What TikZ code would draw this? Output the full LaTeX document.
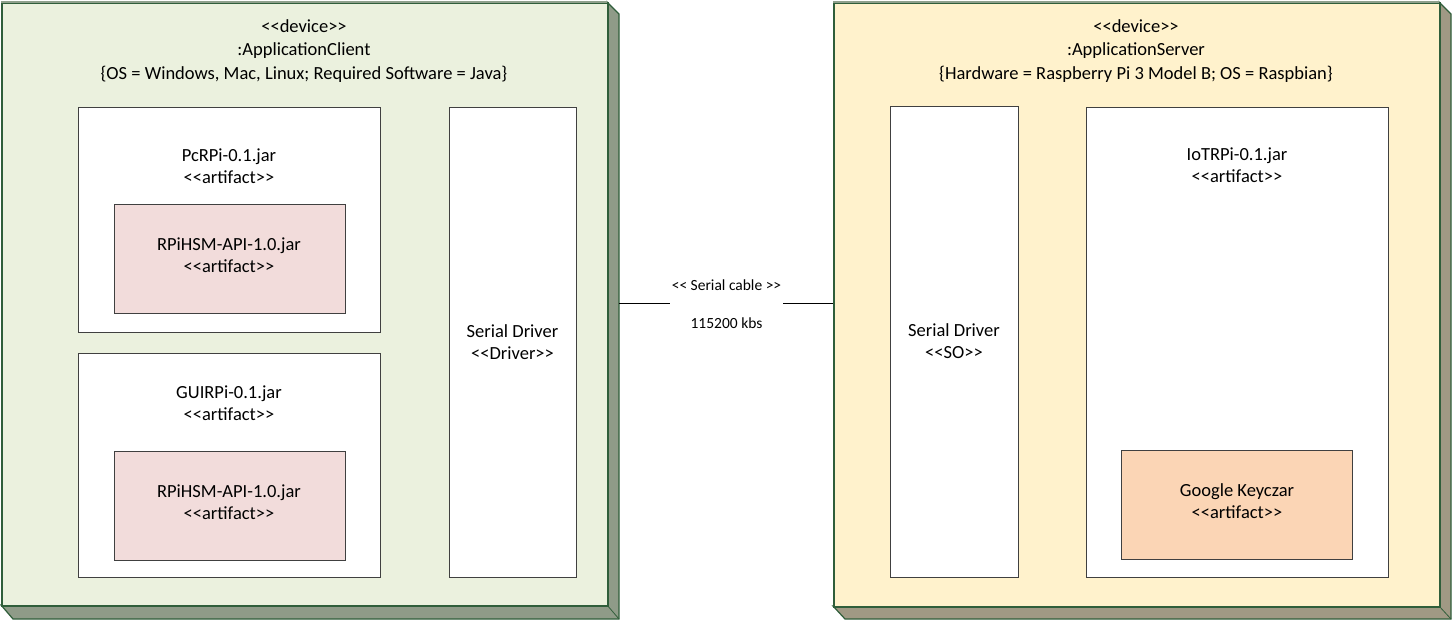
\documentclass[tikz,border=0pt]{standalone}
\usepackage{fontspec}
\setmainfont{Carlito}[Ligatures=TeXOff]
\definecolor{clientfill}{HTML}{EBF1DE}
\definecolor{serverfill}{HTML}{FFF2CC}
\definecolor{clientside}{HTML}{8F9B88}
\definecolor{serverside}{HTML}{A09984}
\definecolor{edgegreen}{HTML}{2F5E3A}
\definecolor{topgray}{HTML}{8FA08C}
\definecolor{pinkfill}{HTML}{F2DCDB}
\definecolor{orangefill}{HTML}{FBD5B5}
\definecolor{boxline}{HTML}{404040}
\tikzset{
  devface/.style={draw=edgegreen, line width=1.6pt, anchor=north west, inner sep=0pt},
  devside/.style={draw=edgegreen, line width=1.2pt},
  artbox/.style={draw=boxline, line width=0.9pt, fill=white, anchor=north west, inner sep=0pt},
  txt/.style={font=\fontsize{18.5}{23.5}\selectfont, align=center, inner sep=0pt},
  arttxt/.style={font=\fontsize{18.5}{22}\selectfont, align=center, inner sep=0pt},
  small/.style={font=\fontsize{15.5}{18}\selectfont, inner sep=0pt},
  wire/.style={draw=black, line width=0.9pt}
}
\begin{document}
\begin{tikzpicture}[x=1pt,y=-1pt]
\useasboundingbox (0,0) rectangle (1452,620);
% ---------- client device ----------
\fill[clientside, devside] (607,2) -- (619,14) -- (619,619) -- (13,619) -- (1,605) -- (607,605) -- cycle;
\draw[edgegreen, line width=0.8pt] (607,605) -- (619,619);
\node[devface, fill=clientfill, minimum width=606pt, minimum height=603pt] (client) at (1,2) {};
\draw[topgray, line width=2pt] (1,2) -- (607,2);
\node[txt] (clientlbl) at (304,51) {<<device>>\\:ApplicationClient\\\{OS = Windows, Mac, Linux; Required Software = Java\}};
% PcRPi
\node[artbox, minimum width=302pt, minimum height=225pt] (pcrpi) at (78,107) {};
\node[arttxt] (pcrpilbl) at (229,166) {PcRPi-0.1.jar\\<<artifact>>};
\node[artbox, fill=pinkfill, minimum width=231pt, minimum height=109pt] (hsmA) at (114,204) {};
\node[arttxt] (hsmAlbl) at (229,255) {RPiHSM-API-1.0.jar\\<<artifact>>};
% GUIRPi
\node[artbox, minimum width=302pt, minimum height=224pt] (guirpi) at (78,353) {};
\node[arttxt] (guirpilbl) at (229,403) {GUIRPi-0.1.jar\\<<artifact>>};
\node[artbox, fill=pinkfill, minimum width=231pt, minimum height=109pt] (hsmB) at (114,451) {};
\node[arttxt] (hsmBlbl) at (229,502) {RPiHSM-API-1.0.jar\\<<artifact>>};
% Serial driver client
\node[artbox, minimum width=127pt, minimum height=470pt] (drvA) at (449,107) {};
\node[arttxt] (drvAlbl) at (512.5,342) {Serial Driver\\<<Driver>>};
% ---------- server device ----------
\fill[serverside, devside] (1439,2) -- (1451,14) -- (1451,619) -- (845,619) -- (833,606) -- (1439,606) -- cycle;
\draw[edgegreen, line width=0.8pt] (1439,606) -- (1451,619);
\node[devface, fill=serverfill, minimum width=606pt, minimum height=604pt] (server) at (833,2) {};
\draw[topgray, line width=2pt] (833,2) -- (1439,2);
\node[txt] (serverlbl) at (1136,51) {<<device>>\\:ApplicationServer\\\{Hardware = Raspberry Pi 3 Model B; OS = Raspbian\}};
\node[artbox, minimum width=128pt, minimum height=471pt] (drvB) at (890,106) {};
\node[arttxt] (drvBlbl) at (954,341.5) {Serial Driver\\<<SO>>};
\node[artbox, minimum width=302pt, minimum height=470pt] (iot) at (1086,107) {};
\node[arttxt] (iotlbl) at (1237,165) {IoTRPi-0.1.jar\\<<artifact>>};
\node[artbox, fill=orangefill, minimum width=231pt, minimum height=109pt] (keyczar) at (1121,450) {};
\node[arttxt] (keyczarlbl) at (1237,501) {Google Keyczar\\<<artifact>>};
% ---------- connector ----------
\coordinate (cL) at (619,303);
\coordinate (gL) at (670,303);
\coordinate (gR) at (783,303);
\coordinate (cR) at (833,303);
\draw[wire] (cL) -- (gL);
\draw[wire] (gR) -- (cR);
\node[small] (cablelbl) at (726.5,285) {<< Serial cable >>};
\node[small] (ratelbl) at (726.5,323) {115200 kbs};
\end{tikzpicture}
\end{document}
